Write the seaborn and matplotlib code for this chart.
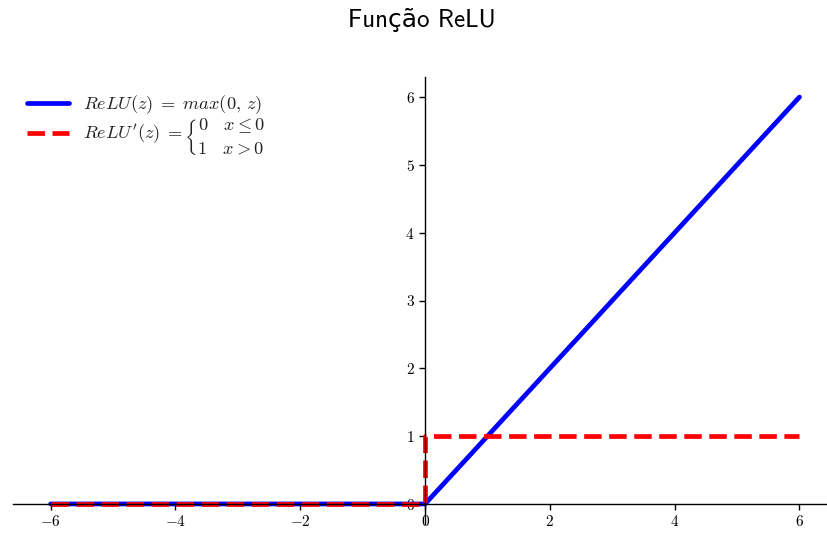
import numpy as np
import pandas as pd
import matplotlib
matplotlib.use("Agg")
import matplotlib.pyplot as plt
import seaborn as sns
from matplotlib.ticker import FuncFormatter

sns.set_style("white")
plt.rcParams["mathtext.fontset"] = "cm"
plt.rcParams["font.family"] = ["DejaVu Sans"]

# data
z_relu = [-6, 0, 6]
relu_vals = [0, 0, 6]
z_deriv = [-6, 0, 0, 6]
deriv_vals = [0, 0, 1, 1]
xticks = [-6, -4, -2, 0, 2, 4, 6]
yticks = [0, 1, 2, 3, 4, 5, 6]
title = "Função ReLU"
label_relu = r"$ReLU(z)\;=\;max(0,\,z)$"
label_deriv = (r"$ReLU'(z)\;=\left\{\genfrac{}{}{0}{0}{0\quad x \leq 0}"
               r"{\genfrac{}{}{0}{0}{\,}{1\quad x > 0}}\right.$")

fig = plt.figure(figsize=(8.27, 5.33), dpi=100)
ax = fig.add_axes([13.2 / 827, 8.7 / 533, (826 - 13.2) / 827, (524.3 - 76.7) / 533])

df1 = pd.DataFrame({"z": z_relu, "v": relu_vals})
df2 = pd.DataFrame({"z": z_deriv, "v": deriv_vals})
sns.lineplot(data=df1, x="z", y="v", ax=ax, color="blue", lw=3.4, label=label_relu,
             sort=False, estimator=None)
sns.lineplot(data=df2, x="z", y="v", ax=ax, color="red", lw=3.4, ls="--", label=label_deriv,
             sort=False, estimator=None)

ax.set_xlim(-6.6, 6.425)
ax.set_ylim(-0.3, 6.3)
ax.spines["left"].set_position(("data", 0))
ax.spines["bottom"].set_position(("data", 0))
ax.spines["top"].set_visible(False)
ax.spines["right"].set_visible(False)
for s in ("left", "bottom"):
    ax.spines[s].set_color("black")
    ax.spines[s].set_linewidth(1.0)
ax.set_xticks(xticks)
ax.set_yticks(yticks)
fmt = FuncFormatter(lambda v, p: r"$%d$" % v)
ax.xaxis.set_major_formatter(fmt)
ax.yaxis.set_major_formatter(fmt)
ax.tick_params(axis="both", which="major", direction="out", length=4, width=1,
               colors="black", labelsize=11, left=True, bottom=True)
ax.set_xlabel("")
ax.set_ylabel("")

leg = ax.legend(loc="upper left", frameon=False, fontsize=13.2, handlelength=2.3,
                handletextpad=0.75, bbox_to_anchor=(-0.003, 1.0), borderaxespad=0.5,
                labelspacing=0.05)
for t in leg.get_texts():
    t.set_color("#222222")

fig.text(0.51, 0.962, title, ha="center", va="center", fontsize=18,
         color="black", family=["cmss10", "DejaVu Sans"])

fig.savefig("out.png", dpi=100)
